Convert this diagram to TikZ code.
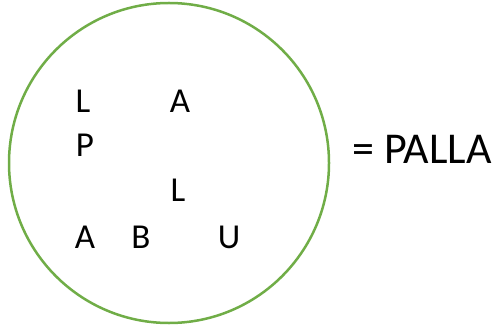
\documentclass[tikz,border=0pt]{standalone}
\usepackage{fontspec}
\setmainfont{Carlito}
\definecolor{ringgreen}{RGB}{112,173,71}
\tikzset{
  letter/.style={font=\fontsize{35}{35}\selectfont, inner sep=0pt, anchor=center},
  ring/.style={draw=ringgreen, line width=2.5pt},
  result/.style={font=\fontsize{44}{44}\selectfont, inner sep=0pt, anchor=west}
}
\begin{document}
\begin{tikzpicture}[x=1pt,y=1pt]
\useasboundingbox (0,0) rectangle (494,324);
\node[ring, circle, minimum size=320pt, inner sep=0pt] (set) at (169,161) {};
\node[letter] (l1) at (83,223) {L};
\node[letter] (a1) at (180,223) {A};
\node[letter] (p) at (85,179) {P};
\node[letter] (l2) at (178,134) {L};
\node[letter] (a2) at (85,87) {A};
\node[letter] (b) at (141,87) {B};
\node[letter] (u) at (229,87) {U};
\node[result] (res) at (352,175) {= PALLA};
\end{tikzpicture}
\end{document}
